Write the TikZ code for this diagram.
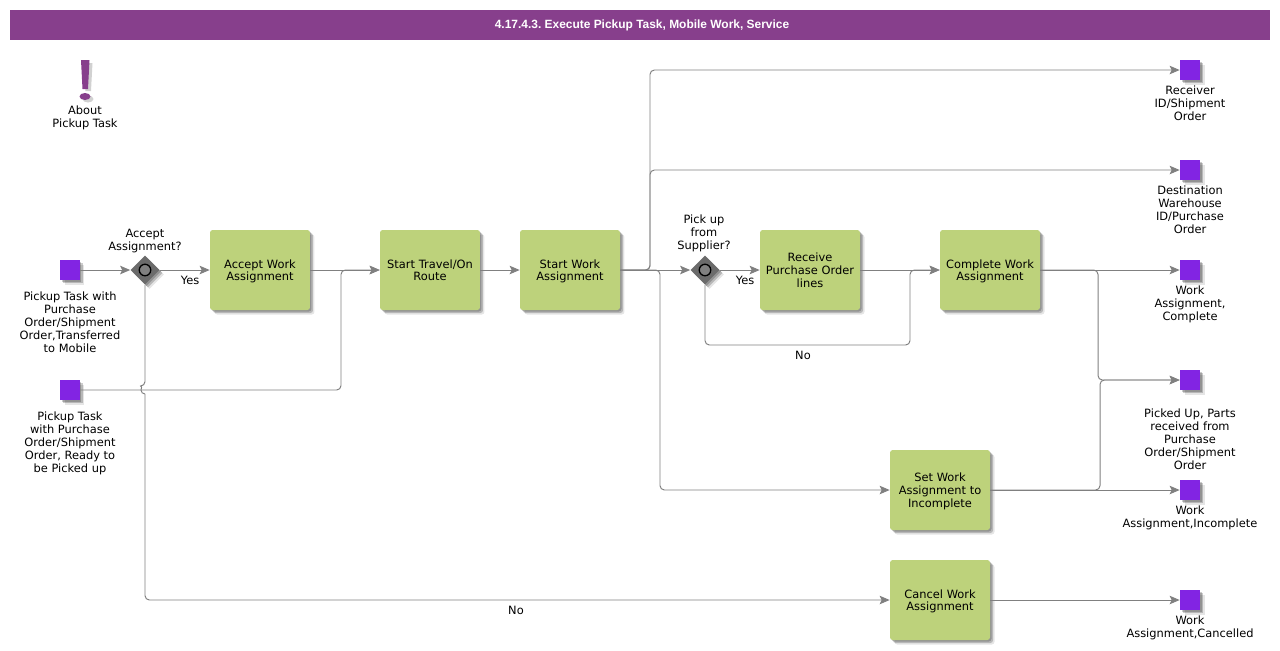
\documentclass[tikz,border=0pt]{standalone}
\usepackage{fontspec}
\setmainfont{DejaVu Sans}
\newfontfamily\headfont{Liberation Sans}
\usepackage{xcolor}
\usetikzlibrary{arrows.meta,shadows,shapes.geometric}
\definecolor{headpurple}{HTML}{873F8C}
\definecolor{taskgreen}{HTML}{BDD27B}
\definecolor{eventviolet}{HTML}{8224E3}
\definecolor{flowgray}{HTML}{808080}
\newcommand{\topstrut}{\rule{0pt}{7.3pt}}

\begin{document}
\begin{tikzpicture}[
        x=0.02cm, y=-0.02cm,
        font=\fontsize{6.5}{7.37}\selectfont,
        softshadow/.style={
            drop shadow={shadow xshift=0.09cm, shadow yshift=-0.09cm, fill=black, opacity=0.1},
            drop shadow={shadow xshift=0.06cm, shadow yshift=-0.06cm, fill=black, opacity=0.2},
            drop shadow={shadow xshift=0.03cm, shadow yshift=-0.03cm, fill=black, opacity=0.2}},
        task/.style={fill=taskgreen, rounded corners=1.5pt, align=center, inner sep=0pt, minimum width=2cm, minimum height=1.6cm, text width=1.96cm,
            execute at begin node=\topstrut, execute at end node=\strut, softshadow},
        event/.style={fill=eventviolet, inner sep=0pt, minimum size=0.4cm, softshadow},
        gateway/.style={diamond, fill=black!58, inner sep=0pt, minimum width=0.58cm, minimum height=0.58cm, softshadow},
        gatering/.style={circle, draw=black, line width=0.75pt, fill=flowgray, inner sep=0pt, minimum size=0.23cm},
        note/.style={align=center, inner sep=0pt, execute at begin node=\topstrut, execute at end node=\strut},
        arr/.style={-{Stealth[length=0.2cm, width=0.17cm, inset=0.04cm]}, draw=flowgray, line width=0.55pt, rounded corners=2.5pt},
        flow/.style={draw=flowgray, line width=0.55pt, rounded corners=2.5pt}
    ]
        \useasboundingbox (0,0) rectangle (1280,650);

        \node[fill=headpurple, minimum width=25.2cm, minimum height=0.6cm, inner sep=0pt, text=white, text depth=1.3pt,
              font=\headfont\fontsize{6.8}{8}\selectfont\bfseries\frenchspacing] (header) at (640,25)
            {\hspace*{2.3pt}4.17.4.3. Execute Pickup Task, Mobile Work, Service};

        % about marker
        \fill[black, opacity=0.18] (84,63) -- (92.5,63) -- (91,91) -- (85.5,91) -- cycle;
        \fill[black, opacity=0.18] (88,99) ellipse[x radius=0.11cm, y radius=0.07cm];
        \fill[headpurple] (81,60) -- (89.5,60) -- (88,89) -- (82.5,89) -- cycle;
        \fill[headpurple] (85,96.5) ellipse[x radius=0.11cm, y radius=0.07cm];
        \node[note] (about) at (85,119) {About\\Pickup Task};

        % events on the left
        \node[event] (pickmobile) at (70,270) {};
        \node[note] (pickmobiletxt) at (70,324) {Pickup Task with\\Purchase\\Order/Shipment\\Order,Transferred\\to Mobile};
        \node[event] (pickready) at (70,390) {};
        \node[note] (pickreadytxt) at (70,444) {Pickup Task\\with Purchase\\Order/Shipment\\Order, Ready to\\be Picked up};

        % gateways
        \node[gateway] (gwaccept) at (145,270) {};
        \node[gatering] (ringaccept) at (145,270) {};
        \node[note] (gwaccepttxt) at (145,242) {Accept\\Assignment?};
        \node[gateway] (gwsupplier) at (705,270) {};
        \node[gatering] (ringsupplier) at (705,270) {};
        \node[note] (gwsuppliertxt) at (704,234) {Pick up\\from\\Supplier?};

        % tasks
        \node[task] (accept) at (260,270) {Accept Work\\Assignment};
        \node[task] (travel) at (430,270) {Start Travel/On\\Route};
        \node[task] (startwork) at (570,270) {Start Work\\Assignment};
        \node[task] (receive) at (810,270) {Receive\\Purchase Order\\lines};
        \node[task] (complete) at (990,270) {Complete Work\\Assignment};
        \node[task] (incomplete) at (940,490) {Set Work\\Assignment to\\Incomplete};
        \node[task] (cancel) at (940,600) {Cancel Work\\Assignment};

        % events on the right
        \node[event] (receiver) at (1190,70) {};
        \node[note] (receivertxt) at (1190,105) {Receiver\\ID/Shipment\\Order};
        \node[event] (destination) at (1190,170) {};
        \node[note] (destinationtxt) at (1190,211.5) {Destination\\Warehouse\\ID/Purchase\\Order};
        \node[event] (workdone) at (1190,270) {};
        \node[note] (workdonetxt) at (1190,305) {Work\\Assignment,\\Complete};
        \node[event] (pickedup) at (1190,380) {};
        \node[note] (pickeduptxt) at (1190,441) {Picked Up, Parts\\received from\\Purchase\\Order/Shipment\\Order};
        \node[event] (workinc) at (1190,490) {};
        \node[note] (workinctxt) at (1190,518.5) {Work\\Assignment,Incomplete};
        \node[event] (workcan) at (1190,600) {};
        \node[note] (workcantxt) at (1190,628.5) {Work\\Assignment,Cancelled};

        % bends and the hop over the lower line
        \coordinate (hoptop) at (145,386);
        \coordinate (turnready) at (341,390);
        \coordinate (turnup) at (650,270);
        \coordinate (turndown) at (660,270);
        \coordinate (turnno) at (910,345);
        \coordinate (turnleft) at (1098,270);
        \coordinate (turnright) at (1100,490);

        % connectors
        \draw[arr] (pickmobile) -- (gwaccept);
        \draw[arr] (gwaccept) -- (accept);
        \draw[arr] (accept) -- (travel);
        \draw[arr] (pickready) -- (turnready) |- (travel.west);
        \draw[arr] (travel) -- (startwork);
        \draw[arr] (startwork) -- (gwsupplier);
        \draw[arr] (startwork.east) -- (turnup) |- (receiver);
        \draw[arr] (startwork.east) -- (turnup) |- (destination);
        \draw[arr] (startwork.east) -- (turndown) |- (incomplete);
        \draw[arr] (gwsupplier) -- (receive);
        \draw[arr] (receive) -- (complete);
        \draw[arr] (gwsupplier.south) |- (turnno) |- (complete.west);
        \draw[arr] (complete) -- (workdone);
        \draw[arr] (complete.east) -- (turnleft) |- (pickedup);
        \draw[arr] (incomplete) -- (workinc);
        \draw[arr] (incomplete.east) -- (turnright) |- (pickedup);
        \draw[arr] (cancel) -- (workcan);
        \draw[flow] (gwaccept.south) -- (hoptop) arc[start angle=90, end angle=270, radius=0.08cm] coordinate (hopend);
        \draw[arr] (hopend) |- (cancel.west);

        \node[note] (yesaccept) at (190,280) {Yes};
        \node[note] (yessupplier) at (745,280) {Yes};
        \node[note] (nosupplier) at (803,355) {No};
        \node[note] (noaccept) at (516,610) {No};
    \end{tikzpicture}
\end{document}
